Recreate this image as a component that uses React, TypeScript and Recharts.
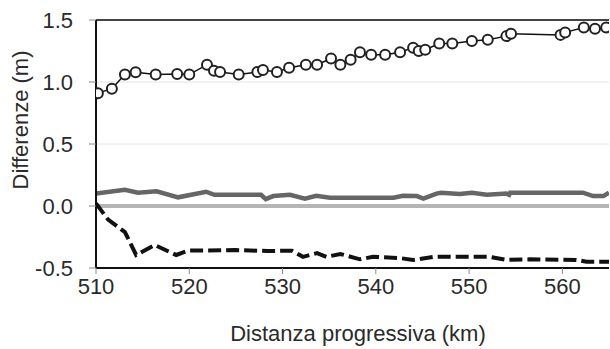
import React from "react";
import { ComposedChart, Line, XAxis, YAxis, CartesianGrid, ReferenceLine, Label } from "recharts";

// open circles series
const circleKm = [510.2, 511.7, 513.1, 514.25, 516.4, 518.7, 520.0, 521.9, 522.65, 523.3, 525.3, 527.3, 527.9, 529.4, 530.7, 532.5, 533.7, 535.2, 536.2, 537.3, 538.3, 539.5, 541.0, 542.6, 544.0, 544.6, 545.3, 546.8, 548.2, 550.3, 552.0, 554.0, 554.5, 559.8, 560.3, 562.3, 563.5, 564.7];
const circleVal = [0.91, 0.946, 1.06, 1.078, 1.06, 1.065, 1.06, 1.14, 1.09, 1.08, 1.06, 1.08, 1.097, 1.08, 1.115, 1.14, 1.14, 1.19, 1.14, 1.18, 1.24, 1.22, 1.22, 1.24, 1.277, 1.25, 1.26, 1.31, 1.31, 1.33, 1.34, 1.37, 1.39, 1.38, 1.40, 1.44, 1.43, 1.44];

// grey solid series
const greyKm = [510, 513.1, 514.5, 516.5, 518.8, 521.8, 522.7, 527.7, 528.2, 529, 530.8, 532.4, 533.6, 535.1, 541.9, 542.9, 544.4, 545.1, 546.5, 547.0, 549.0, 550.3, 551.9, 554.0, 554.3, 554.4, 562.2, 563.3, 564.4, 565];
const greyVal = [0.10, 0.13, 0.107, 0.118, 0.07, 0.115, 0.09, 0.09, 0.056, 0.08, 0.09, 0.06, 0.083, 0.067, 0.067, 0.083, 0.08, 0.06, 0.10, 0.107, 0.097, 0.107, 0.09, 0.10, 0.09, 0.107, 0.107, 0.08, 0.08, 0.107];

// dashed series
const dashKm = [510, 511.3, 513.1, 514.3, 516.3, 518.6, 519.9, 524.9, 528.4, 531, 532.2, 533.7, 534.7, 536.2, 538.3, 539.7, 542.6, 544.0, 546.2, 549.4, 552.2, 554, 556.5, 561.5, 562.6, 565];
const dashVal = [0.02, -0.11, -0.21, -0.395, -0.315, -0.395, -0.36, -0.355, -0.363, -0.36, -0.41, -0.38, -0.41, -0.387, -0.43, -0.41, -0.42, -0.435, -0.41, -0.41, -0.41, -0.435, -0.43, -0.435, -0.45, -0.45];

const xTicks = [510, 520, 530, 540, 550, 560];
const yTicks = [-0.5, 0, 0.5, 1.0, 1.5];

const toPoints = (xs: number[], ys: number[]) => xs.map((x, i) => ({ x, y: ys[i] }));

const circleData = toPoints(circleKm, circleVal);
const greyData = toPoints(greyKm, greyVal);
const dashData = toPoints(dashKm, dashVal);

const font = "'Liberation Sans', Arial, sans-serif";
const textColor = "#2a2a2a";

export default function App() {
  return (
    <div style={{ position: "absolute", left: 0, top: 0, width: 610, height: 349, background: "#fff", fontFamily: font }}>
      <ComposedChart width={610} height={349} margin={{ top: 20, right: 1, bottom: 0, left: 0 }}>
        <CartesianGrid vertical={false} stroke="#e4e4e4" strokeWidth={1} />
        <XAxis
          type="number"
          dataKey="x"
          domain={[510, 565]}
          ticks={xTicks}
          allowDataOverflow
          height={81}
          tickSize={6}
          tickMargin={4}
          axisLine={{ stroke: "#111", strokeWidth: 2 }}
          tickLine={{ stroke: "#888" }}
          tick={{ fill: textColor, fontSize: 22, fontFamily: font }}
        >
          <Label
            content={() => (
              <text x={358} y={333} textAnchor="middle" dominantBaseline="central" fill={textColor} fontSize={22} fontFamily={font}>
                Distanza progressiva (km)
              </text>
            )}
          />
        </XAxis>
        <YAxis
          type="number"
          domain={[-0.5, 1.5]}
          ticks={yTicks}
          allowDataOverflow
          width={96}
          tickSize={7}
          tickMargin={16}
          tickFormatter={(v: number) => v.toFixed(1)}
          axisLine={{ stroke: "#111", strokeWidth: 2 }}
          tickLine={{ stroke: "#888" }}
          tick={{ fill: textColor, fontSize: 22, fontFamily: font }}
        >
          <Label
            content={() => (
              <text x={20} y={120} transform="rotate(-90 20 120)" textAnchor="middle" dominantBaseline="central" fill={textColor} fontSize={22} fontFamily={font}>
                Differenze (m)
              </text>
            )}
          />
        </YAxis>
        <ReferenceLine y={1.5} stroke="#444" strokeWidth={2} />
        <ReferenceLine y={0} stroke="#b5b5b5" strokeWidth={4} />
        <Line data={greyData} dataKey="y" type="linear" stroke="#666" strokeWidth={4.5} dot={false} isAnimationActive={false} />
        <Line data={dashData} dataKey="y" type="linear" stroke="#111" strokeWidth={4} strokeDasharray="13 5" dot={false} isAnimationActive={false} />
        <Line
          data={circleData}
          dataKey="y"
          type="linear"
          stroke="#111"
          strokeWidth={1.5}
          dot={{ r: 5, fill: "#fff", stroke: "#222", strokeWidth: 2 }}
          isAnimationActive={false}
        />
      </ComposedChart>
    </div>
  );
}
